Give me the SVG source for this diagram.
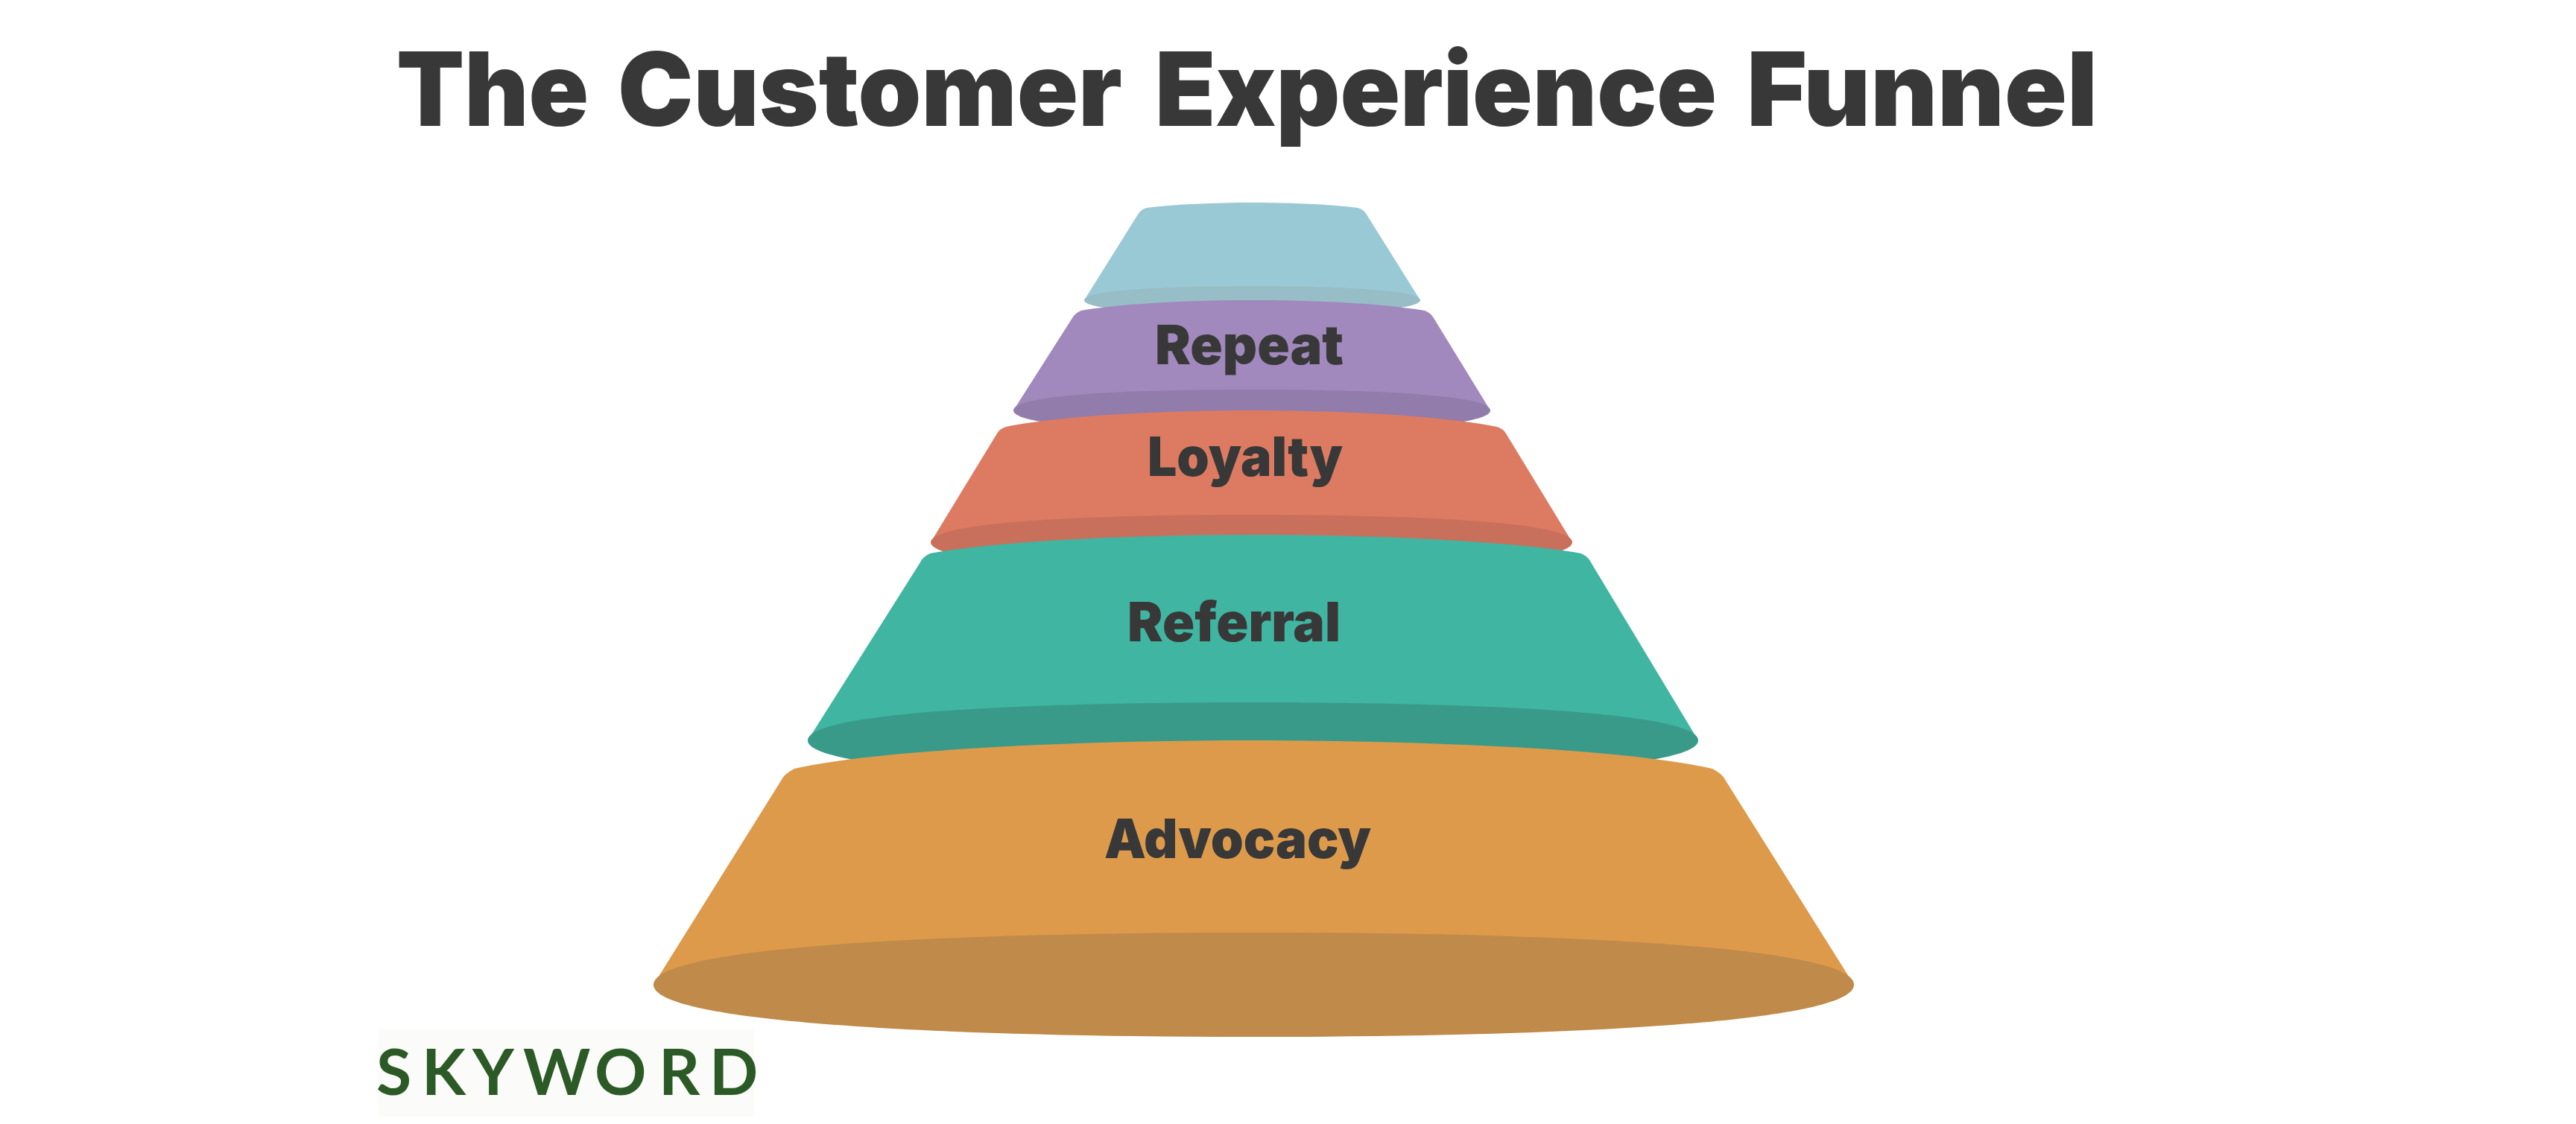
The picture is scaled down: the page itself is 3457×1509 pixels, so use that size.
<svg xmlns="http://www.w3.org/2000/svg" width="3457" height="1509" viewBox="0 0 3457 1509">
<style>
.title{font-family:Inter,"Liberation Sans",sans-serif;font-weight:900;fill:#383838;font-size:137px}
.label{font-family:Inter,"Liberation Sans",sans-serif;font-weight:900;fill:#383838;font-size:73px}
.brand{font-family:Lato,"Liberation Sans",sans-serif;font-weight:700;fill:#2c5a26;font-size:86px}
</style>
<rect width="3457" height="1509" fill="#ffffff"/>
<text id="title" class="title" y="169"><tspan x="532" textLength="258" lengthAdjust="spacingAndGlyphs">The</tspan> <tspan x="829" textLength="677" lengthAdjust="spacingAndGlyphs">Customer</tspan> <tspan x="1550" textLength="754" lengthAdjust="spacingAndGlyphs">Experience</tspan> <tspan x="2344" textLength="471" lengthAdjust="spacingAndGlyphs">Funnel</tspan></text>
<g id="top-unlabelled">
<path fill="#9ac9d6" d="M1455 403L1527 288Q1531 281 1539 279C1580 274 1630 272 1680.500 272C1731 272 1781 274 1822 279Q1830 281 1834 288L1906 403L1680 410Z"/>
<path fill="#97bdc7" d="M1455 403C1455 390 1556.500 384 1680.500 384C1804.500 384 1906 390 1906 403C1906 416 1804.500 422 1680.500 422C1556.500 422 1455 416 1455 403Z"/>
</g>
<g id="repeat">
<path fill="#a188bd" d="M1360 551L1439 427Q1443 420 1451 417C1510 407 1600 403 1681 403C1762 403 1852 407 1912 417Q1920 420 1924 427L2000 551L1680 560Z"/>
<path fill="#917cab" d="M1360 551C1360 531 1504 523 1680 523C1856 523 2000 531 2000 551C2000 571 1856 579 1680 579C1504 579 1360 571 1360 551Z"/>
<text class="label" x="1550" y="489" textLength="253" lengthAdjust="spacingAndGlyphs">Repeat</text>
</g>
<g id="loyalty">
<path fill="#dc7b61" d="M1249 728L1338 582Q1341 576 1350 573C1425 558 1560 551 1680 551C1800 551 1934 558 2009 573Q2018 576 2021 582L2110 728L1680 740Z"/>
<path fill="#c9705d" d="M1249 728C1249 702 1442.500 691 1679.500 691C1916.500 691 2110 702 2110 728C2110 754 1916.500 765 1679.500 765C1442.500 765 1249 754 1249 728Z"/>
<text class="label" x="1540" y="639" textLength="262" lengthAdjust="spacingAndGlyphs">Loyalty</text>
</g>
<g id="referral">
<path fill="#3fb5a2" d="M1084 994L1235 755Q1238 748 1248 743C1340 726 1520 718 1683 718C1846 718 2026 726 2122 743Q2132 748 2135 755L2279 994L1680 1010Z"/>
<path fill="#3a9a89" d="M1084 994C1084 958 1352.500 943 1681.500 943C2010.500 943 2279 958 2279 994C2279 1030 2010.500 1045 1681.500 1045C1352.500 1045 1084 1030 1084 994Z"/>
<text class="label" x="1513" y="861" textLength="286" lengthAdjust="spacingAndGlyphs">Referral</text>
</g>
<g id="advocacy">
<path fill="#dd9a4b" d="M877 1322L1050 1045Q1053 1039 1066 1032C1180 1006 1450 994 1682 994C1914 994 2184 1006 2298 1032Q2311 1039 2314 1045L2488 1322L1680 1340Z"/>
<path fill="#bf8a4a" d="M877 1322C877 1273 1239.500 1252 1682.500 1252C2125.500 1252 2488 1273 2488 1322C2488 1371 2125.500 1392 1682.500 1392C1239.500 1392 877 1371 877 1322Z"/>
<text class="label" x="1482" y="1152" textLength="358" lengthAdjust="spacingAndGlyphs">Advocacy</text>
</g>
<g id="skyword">
<rect x="508" y="1381" width="504" height="118" fill="#fbfbf9"/>
<text class="brand" y="1470" x="505 566 634 702 798 884 952">SKYWORD</text>
</g>
<g id="connectors"/>
</svg>
